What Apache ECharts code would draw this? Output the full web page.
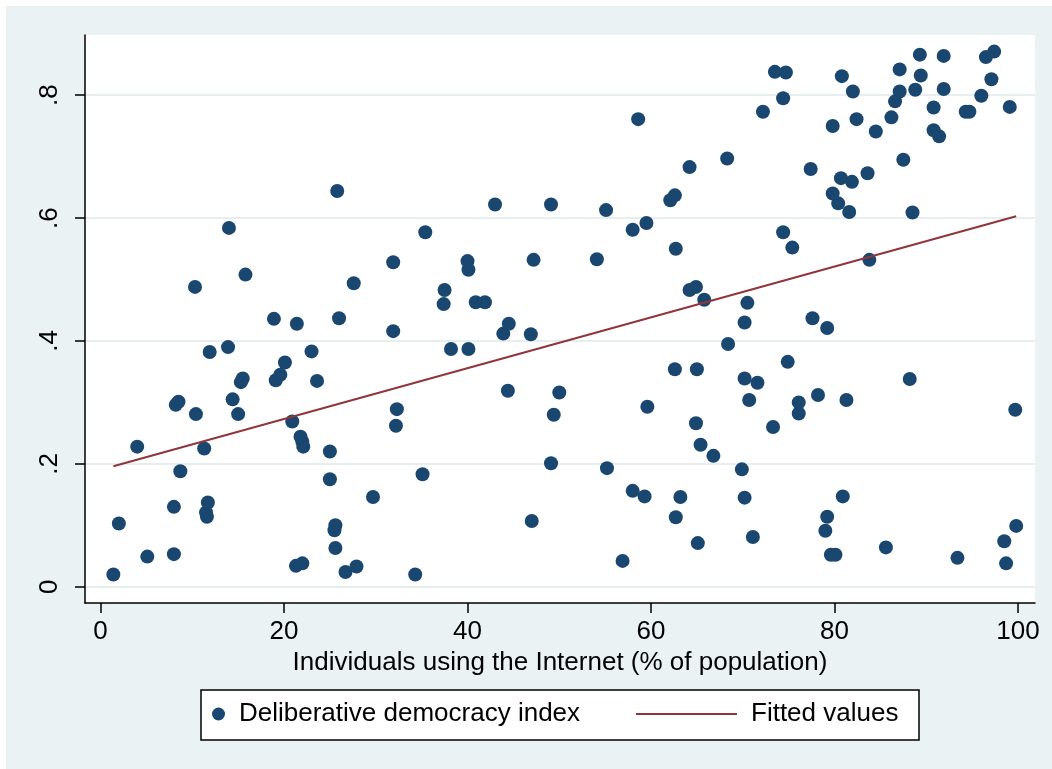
<!DOCTYPE html>
<html>
<head>
<meta charset="utf-8">
<script src="https://cdn.jsdelivr.net/npm/echarts@6/dist/echarts.min.js"></script>
<style>
html,body{margin:0;padding:0;background:#fff;}
#chart{width:1052px;height:769px;}
</style>
</head>
<body>
<div id="chart"></div>
<script>
// Individuals using the Internet (% of population)
var internet = [25.8,14.0,58.6,43.0,49.1,55.1,64.2,62.1,62.6,59.5,58.0,35.4,73.5,74.7,74.4,72.2,80.8,82.0,79.8,82.4,
  84.5,86.2,86.6,87.1,87.1,88.8,89.4,89.3,91.9,91.9,90.8,90.8,91.4,94.7,94.3,96.0,96.5,97.4,97.1,99.1,
  68.3,77.4,80.7,81.9,83.6,79.8,80.4,81.6,87.5,88.5,74.4,
  15.8,10.3,27.6,31.9,18.9,21.4,26.0,31.9,11.9,13.9,23.0,20.1,15.5,15.3,19.1,19.6,23.6,8.5,8.2,14.4,
  10.4,15.0,20.9,32.3,32.2,62.7,40.0,40.1,47.2,54.1,37.5,37.4,40.9,41.9,64.2,64.9,65.8,43.9,44.5,46.9,
  38.2,40.1,62.6,65.0,44.4,50.0,59.6,49.4,64.9,75.4,83.8,70.5,70.2,77.6,79.2,68.4,74.9,70.2,71.6,88.2,
  70.7,76.1,76.1,78.2,81.3,99.7,73.3,
  4.0,11.3,21.8,22.0,22.1,25.0,8.7,25.0,29.7,8.0,11.7,11.6,11.5,2.0,25.6,25.5,25.6,5.1,8.0,21.3,22.0,
  26.7,27.9,1.4,65.4,66.8,35.1,49.1,55.2,58.0,59.3,63.2,62.7,47.0,65.1,56.9,34.3,69.9,70.2,71.1,80.9,
  79.2,79.0,79.6,80.1,85.6,93.4,99.8,98.5,98.7];
// Deliberative democracy index
var democracy = [0.644,0.584,0.761,0.622,0.622,0.613,0.683,0.629,0.637,0.592,0.581,0.577,0.838,0.837,0.795,0.773,0.831,0.806,0.750,0.761,
  0.741,0.764,0.790,0.806,0.842,0.809,0.832,0.866,0.864,0.810,0.780,0.743,0.733,0.773,0.773,0.799,0.862,0.871,0.826,0.781,
  0.697,0.680,0.665,0.659,0.673,0.640,0.624,0.610,0.695,0.609,0.577,
  0.508,0.488,0.494,0.528,0.436,0.428,0.437,0.416,0.382,0.390,0.383,0.365,0.339,0.333,0.336,0.345,0.335,0.301,0.296,0.305,
  0.281,0.281,0.269,0.289,0.262,0.550,0.530,0.516,0.532,0.533,0.483,0.460,0.463,0.463,0.483,0.488,0.467,0.412,0.428,0.411,
  0.387,0.387,0.354,0.354,0.319,0.316,0.293,0.280,0.266,0.552,0.532,0.462,0.430,0.437,0.421,0.395,0.366,0.339,0.332,0.338,
  0.304,0.300,0.282,0.312,0.304,0.288,0.260,
  0.228,0.225,0.244,0.236,0.228,0.220,0.188,0.175,0.146,0.130,0.137,0.114,0.121,0.103,0.100,0.092,0.063,0.049,0.053,0.034,0.038,
  0.024,0.033,0.020,0.231,0.213,0.183,0.201,0.193,0.156,0.147,0.146,0.113,0.107,0.071,0.042,0.020,0.191,0.145,0.081,0.147,
  0.114,0.091,0.052,0.052,0.064,0.047,0.099,0.074,0.038];
// Fitted values (linear fit endpoints)
var fitX = [1.4, 99.8];
var fitY = [0.196, 0.603];
// Tick values
var xTicks = [0, 20, 40, 60, 80, 100];
var yTicks = [0, 0.2, 0.4, 0.6, 0.8];

var scatterData = internet.map(function (v, i) { return [v, democracy[i]]; });
var fitData = fitX.map(function (v, i) { return [v, fitY[i]]; });

var FONT = 'Liberation Sans, Arial, sans-serif';
var chart = echarts.init(document.getElementById('chart'));
chart.setOption({
  backgroundColor: '#eaf2f3',
  animation: false,
  textStyle: { fontFamily: FONT, color: '#000' },
  graphic: [
    { type: 'rect', shape: { x: 0, y: 0, width: 6, height: 769 }, style: { fill: '#fff' }, silent: true },
    { type: 'rect', shape: { x: 0, y: 0, width: 1052, height: 6 }, style: { fill: '#fff' }, silent: true },
    { type: 'rect', shape: { x: 201, y: 690, width: 718, height: 50 }, style: { fill: '#fff', stroke: '#000', lineWidth: 1.5 }, silent: true }
  ],
  grid: { left: 85, top: 35, width: 950, height: 568, show: true, backgroundColor: '#fff', borderWidth: 0 },
  xAxis: {
    type: 'value', min: -1.69, max: 101.85,
    name: 'Individuals using the Internet (% of population)',
    nameLocation: 'middle', nameGap: 42,
    nameTextStyle: { fontSize: 26, fontFamily: FONT, color: '#000' },
    axisLine: { show: true, onZero: false, lineStyle: { color: '#000', width: 1.5 } },
    axisTick: { show: true, length: 10, lineStyle: { color: '#000', width: 1.5 }, customValues: xTicks },
    axisLabel: { fontSize: 26, fontFamily: FONT, color: '#000', margin: 16, customValues: xTicks },
    splitLine: { show: false }
  },
  yAxis: {
    type: 'value', min: -0.0265, max: 0.898,
    axisLine: { show: true, onZero: false, lineStyle: { color: '#000', width: 1.5 } },
    axisTick: { show: true, length: 10, lineStyle: { color: '#000', width: 1.5 }, customValues: yTicks },
    axisLabel: {
      fontSize: 26, fontFamily: FONT, color: '#000', margin: 22, rotate: 90, customValues: yTicks,
      formatter: function (v) { return v === 0 ? '0' : String(Math.round(v * 10) / 10).replace(/^0/, ''); }
    },
    splitLine: { show: true, lineStyle: { color: '#e6eef0', width: 2 } }
  },
  legend: [
    {
      data: [{ name: 'Deliberative democracy index', icon: 'circle' }],
      left: 212, top: 701, padding: 0, itemWidth: 13, itemHeight: 13,
      textStyle: { fontSize: 26, fontFamily: FONT, color: '#000', padding: [0, 0, 0, 9] }
    },
    {
      data: [{ name: 'Fitted values', icon: 'rect' }],
      left: 636, top: 701, padding: 0, itemWidth: 101, itemHeight: 2,
      textStyle: { fontSize: 26, fontFamily: FONT, color: '#000', padding: [0, 0, 0, 9] }
    }
  ],
  series: [
    {
      name: 'Deliberative democracy index', type: 'scatter', data: scatterData,
      symbol: 'circle', symbolSize: 14,
      itemStyle: { color: '#1a476f', opacity: 1 }
    },
    {
      name: 'Fitted values', type: 'line', data: fitData, symbol: 'none',
      lineStyle: { color: '#90353b', width: 2 }, itemStyle: { color: '#90353b' }
    }
  ]
});
</script>
</body>
</html>
